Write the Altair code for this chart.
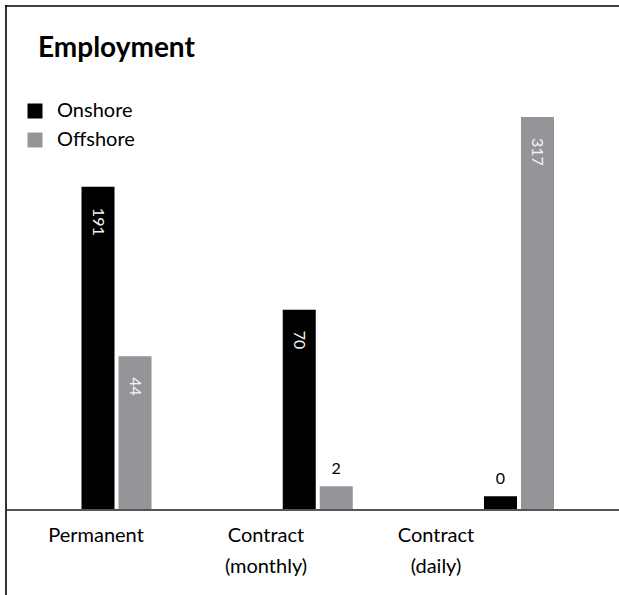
import altair as alt
import pandas as pd

# ---- data ----
CATEGORIES = ["Permanent", "Contract\n(monthly)", "Contract\n(daily)"]
SERIES = ["Onshore", "Offshore"]
ONSHORE = [191, 70, 0]
OFFSHORE = [44, 2, 317]
COLORS = ["#000000", "#939598"]
TITLE = "Employment"

FONT = "Lato"
W, H = 613, 503
Y_MIN, Y_MAX = -2.6, 317

rows = []
for i, c in enumerate(CATEGORIES):
    rows.append({"category": c, "series": SERIES[0], "value": ONSHORE[i]})
    rows.append({"category": c, "series": SERIES[1], "value": OFFSHORE[i]})
df = pd.DataFrame(rows)
cat_df = pd.DataFrame({"category": CATEGORIES})
one = pd.DataFrame({"a": [0]})

xs = alt.X("category:N", sort=CATEGORIES, axis=None,
           scale=alt.Scale(domain=CATEGORIES, range=[75.5, 548],
                           paddingInner=0.652, paddingOuter=0))
xo = alt.XOffset("series:N", sort=SERIES,
                 scale=alt.Scale(domain=SERIES, paddingInner=0.108, paddingOuter=0))
ys = alt.Y("value:Q", axis=None,
           scale=alt.Scale(type="symlog", constant=30, domain=[Y_MIN, Y_MAX],
                           range=[H, 111], zero=False, nice=False))

base = alt.Chart(df).encode(x=xs, xOffset=xo)

bars = base.mark_bar().encode(
    y=ys,
    y2=alt.datum(Y_MIN),
    color=alt.Color("series:N", sort=SERIES,
                    scale=alt.Scale(domain=SERIES, range=COLORS),
                    legend=alt.Legend(title=None, orient="none", legendX=19, legendY=95,
                                      symbolType="square", symbolSize=225,
                                      symbolStrokeWidth=0, labelFont=FONT,
                                      labelFontSize=20, labelColor="#000000",
                                      labelOffset=12, rowPadding=9, padding=0)),
)

inside = base.mark_text(angle=90, align="left", baseline="middle", dx=21,
                        font=FONT, fontSize=16, color="#f4f4f4").encode(
    y=ys, text=alt.Text("value:Q", format="d")
).transform_filter(alt.datum.value >= 10)

above = base.mark_text(align="center", baseline="alphabetic", dy=-12,
                       font=FONT, fontSize=16, color="#000000").encode(
    y=ys, text=alt.Text("value:Q", format="d")
).transform_filter(alt.datum.value < 10)

inner = alt.layer(bars, inside, above)

cat_labels = alt.Chart(cat_df).mark_text(
    align="center", baseline="top", lineBreak="\n", lineHeight=31,
    font=FONT, fontSize=20, color="#000000"
).encode(
    x=alt.X("category:N", sort=CATEGORIES, axis=None,
            scale=alt.Scale(type="point", domain=CATEGORIES, range=[90, 430], padding=0)),
    y=alt.value(520),
    text="category:N",
)

frame_top = alt.Chart(one).mark_rule(color="#000000", strokeWidth=1.6).encode(
    x=alt.value(-1), x2=alt.value(W), y=alt.value(0))
frame_left = alt.Chart(one).mark_rule(color="#000000", strokeWidth=1.6).encode(
    x=alt.value(0), y=alt.value(-1), y2=alt.value(H + 90))
baseline = alt.Chart(one).mark_rule(color="#555555", strokeWidth=2).encode(
    x=alt.value(1), x2=alt.value(W), y=alt.value(H + 1))

title = alt.Chart(one).mark_text(
    align="left", baseline="alphabetic", font=FONT, fontSize=28,
    fontWeight="bold", color="#000000", text=TITLE
).encode(x=alt.value(32), y=alt.value(51))

chart = alt.layer(
    frame_top, frame_left, baseline, title, inner, cat_labels
).resolve_scale(x="independent").properties(
    width=W, height=H,
    autosize=alt.AutoSizeParams(type="none"),
    padding={"left": 6, "top": 6, "right": 0, "bottom": 86},
    background="#ffffff",
).configure_view(stroke="transparent", strokeWidth=0)

chart.save("out.html", embed_options={"renderer": "svg", "actions": False})
